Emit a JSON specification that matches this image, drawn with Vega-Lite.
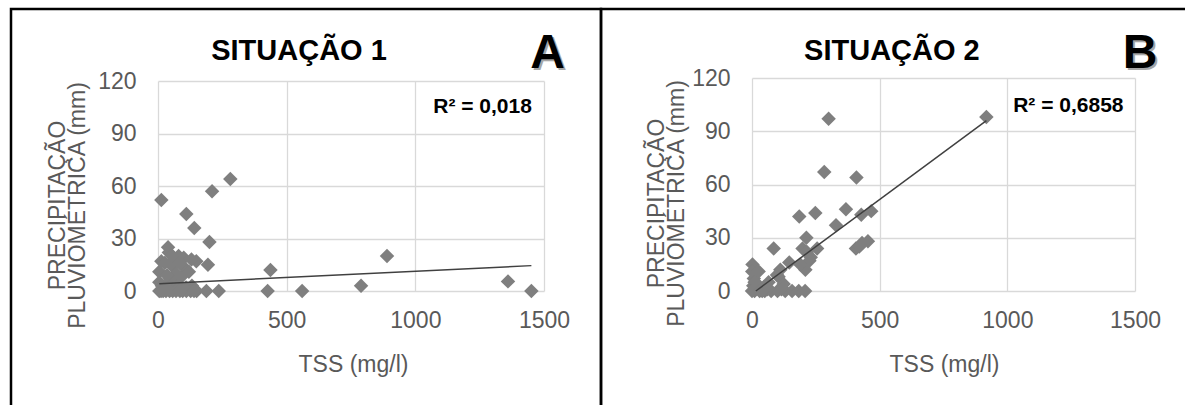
{
  "$schema": "https://vega.github.io/schema/vega-lite/v6.json",
  "padding": {"left": 9, "top": 7, "right": 0, "bottom": 0},
  "spacing": 0,
  "bounds": "flush",
  "background": "white",
  "config": {
    "font": "Liberation Sans",
    "view": {"stroke": "#000000", "strokeWidth": 2.5},
    "axis": {
      "labelFont": "Liberation Sans",
      "labelFontSize": 23,
      "labelColor": "#595959",
      "titleFont": "Liberation Sans",
      "titleFontSize": 23,
      "titleColor": "#595959",
      "titleFontWeight": "normal",
      "gridColor": "#d9d9d9",
      "gridWidth": 1.3,
      "domain": false,
      "ticks": false,
      "tickSize": 0,
      "format": "d"
    }
  },
  "datasets": {
    "s1": [
      {"tss": 13, "prec": 52}, {"tss": 281, "prec": 64}, {"tss": 210, "prec": 57}, {"tss": 110, "prec": 44},
      {"tss": 141, "prec": 36}, {"tss": 200, "prec": 28}, {"tss": 39, "prec": 25}, {"tss": 194, "prec": 15},
      {"tss": 149, "prec": 17}, {"tss": 437, "prec": 12}, {"tss": 890, "prec": 20}, {"tss": 789, "prec": 3},
      {"tss": 1360, "prec": 5.5}, {"tss": 13, "prec": 17}, {"tss": 5, "prec": 11}, {"tss": 5, "prec": 5},
      {"tss": 42, "prec": 22}, {"tss": 62, "prec": 18}, {"tss": 100, "prec": 19}, {"tss": 105, "prec": 13},
      {"tss": 57, "prec": 14}, {"tss": 47, "prec": 7}, {"tss": 132, "prec": 3}, {"tss": 109, "prec": 2},
      {"tss": 44, "prec": 2}, {"tss": 76, "prec": 4}, {"tss": 31, "prec": 3}, {"tss": 26, "prec": 16},
      {"tss": 80, "prec": 20}, {"tss": 70, "prec": 10}, {"tss": 90, "prec": 8}, {"tss": 120, "prec": 11},
      {"tss": 55, "prec": 20}, {"tss": 35, "prec": 9}, {"tss": 15, "prec": 3}, {"tss": 85, "prec": 16},
      {"tss": 130, "prec": 18}, {"tss": 25, "prec": 1}, {"tss": 426, "prec": 0}, {"tss": 560, "prec": 0},
      {"tss": 236, "prec": 0}, {"tss": 188, "prec": 0}, {"tss": 127, "prec": 0}, {"tss": 96, "prec": 0},
      {"tss": 57, "prec": 0}, {"tss": 31, "prec": 0}, {"tss": 12, "prec": 0}, {"tss": 1451, "prec": 0},
      {"tss": 5, "prec": 0}, {"tss": 70, "prec": 0}, {"tss": 110, "prec": 0}, {"tss": 150, "prec": 0},
      {"tss": 20, "prec": 0}, {"tss": 45, "prec": 0}, {"tss": 85, "prec": 0}, {"tss": 140, "prec": 0}
    ],
    "s2": [
      {"tss": 300, "prec": 97}, {"tss": 283, "prec": 67}, {"tss": 409, "prec": 64}, {"tss": 368, "prec": 46},
      {"tss": 248, "prec": 44}, {"tss": 185, "prec": 42}, {"tss": 329, "prec": 37}, {"tss": 428, "prec": 43},
      {"tss": 467, "prec": 45}, {"tss": 454, "prec": 28}, {"tss": 431, "prec": 27}, {"tss": 407, "prec": 24},
      {"tss": 420, "prec": 25}, {"tss": 213, "prec": 30}, {"tss": 255, "prec": 24}, {"tss": 198, "prec": 24},
      {"tss": 225, "prec": 17}, {"tss": 209, "prec": 12}, {"tss": 189, "prec": 15}, {"tss": 85, "prec": 24},
      {"tss": 146, "prec": 16}, {"tss": 111, "prec": 12}, {"tss": 98, "prec": 9}, {"tss": 2, "prec": 15},
      {"tss": 1, "prec": 11}, {"tss": 7, "prec": 7}, {"tss": 5, "prec": 3}, {"tss": 20, "prec": 4},
      {"tss": 46, "prec": 2}, {"tss": 65, "prec": 5}, {"tss": 104, "prec": 8}, {"tss": 124, "prec": 4},
      {"tss": 26, "prec": 11}, {"tss": 918, "prec": 98}, {"tss": 215, "prec": 22}, {"tss": 230, "prec": 19},
      {"tss": 10, "prec": 5}, {"tss": 0, "prec": 0}, {"tss": 10, "prec": 0}, {"tss": 30, "prec": 0},
      {"tss": 50, "prec": 0}, {"tss": 75, "prec": 0}, {"tss": 100, "prec": 0}, {"tss": 130, "prec": 0},
      {"tss": 157, "prec": 0}, {"tss": 183, "prec": 0}, {"tss": 208, "prec": 0}, {"tss": 60, "prec": 1},
      {"tss": 115, "prec": 1}, {"tss": 40, "prec": 0}
    ],
    "t1": [{"tss": 5, "prec": 4.2}, {"tss": 1451, "prec": 14.5}],
    "t2": [{"tss": 15, "prec": 0}, {"tss": 918, "prec": 96}]
  },
  "hconcat": [
    {
      "width": 590,
      "height": 396,
      "view": {"strokeDash": [986, 590, 400, 10]},
      "resolve": {"axis": {"x": "independent", "y": "independent"}},
      "layer": [
        {
          "data": {"name": "s1"},
          "mark": {"type": "point", "shape": "diamond", "filled": true, "size": 210, "color": "#7f7f7f", "opacity": 1},
          "encoding": {
            "x": {
              "field": "tss", "type": "quantitative",
              "scale": {"domain": [0, 1500], "range": [147, 533], "nice": false, "zero": false},
              "axis": {"orient": "top", "offset": -282, "grid": true, "values": [0, 500, 1000, 1500],
                "labelPadding": -18, "labelBaseline": "top", "labelFlush": false,
                "title": "TSS (mg/l)", "titleX": 342, "titleY": 62, "titleBaseline": "top", "titleAlign": "center"}
            },
            "y": {
              "field": "prec", "type": "quantitative",
              "scale": {"domain": [0, 120], "range": [282, 72], "nice": false},
              "axis": {"orient": "left", "offset": -147, "grid": true, "values": [0, 30, 60, 90, 120],
                "labelPadding": 22, "labelFlush": false,
                "title": ["PRECIPITAÇÃO", "PLUVIOMÉTRICA (mm)"], "titleX": -89, "titleY": 196,
                "titleLineHeight": 20, "titleBaseline": "bottom", "titleAlign": "center", "titleAngle": 270}
            }
          }
        },
        {
          "data": {"name": "t1"},
          "mark": {"type": "line", "color": "#404040", "strokeWidth": 1.5},
          "encoding": {
            "x": {"field": "tss", "type": "quantitative", "axis": null},
            "y": {"field": "prec", "type": "quantitative", "axis": null}
          }
        },
        {
          "data": {"values": [{"t": "R² = 0,018"}]},
          "mark": {"type": "text", "align": "right", "baseline": "alphabetic", "fontSize": 21, "fontWeight": "bold", "color": "#000000"},
          "encoding": {
            "x": {"datum": 1453, "type": "quantitative", "axis": null},
            "y": {"datum": 102, "type": "quantitative", "axis": null},
            "text": {"field": "t"}
          }
        },
        {
          "data": {"values": [{"t": "SITUAÇÃO 1"}]},
          "mark": {"type": "text", "align": "center", "baseline": "alphabetic", "fontSize": 29, "fontWeight": "bold", "color": "#000000"},
          "encoding": {
            "x": {"datum": 548, "type": "quantitative", "axis": null},
            "y": {"datum": 132, "type": "quantitative", "axis": null},
            "text": {"field": "t"}
          }
        },
        {
          "data": {"values": [{"t": "A"}]},
          "mark": {"type": "text", "align": "center", "baseline": "alphabetic", "fontSize": 48, "fontWeight": "bold", "color": "#a6a6a6", "dx": 2, "dy": 2},
          "encoding": {
            "x": {"datum": 1514, "type": "quantitative", "axis": null},
            "y": {"datum": 127.4, "type": "quantitative", "axis": null},
            "text": {"field": "t"}
          }
        },
        {
          "data": {"values": [{"t": "A"}]},
          "mark": {"type": "text", "align": "center", "baseline": "alphabetic", "fontSize": 48, "fontWeight": "bold", "color": "#000000"},
          "encoding": {
            "x": {"datum": 1514, "type": "quantitative", "axis": null},
            "y": {"datum": 127.4, "type": "quantitative", "axis": null},
            "text": {"field": "t"}
          }
        }
      ]
    },
    {
      "width": 584,
      "height": 396,
      "view": {"strokeDash": [584, 980, 400, 10]},
      "resolve": {"axis": {"x": "independent", "y": "independent"}},
      "layer": [
        {
          "data": {"name": "s2"},
          "mark": {"type": "point", "shape": "diamond", "filled": true, "size": 210, "color": "#7f7f7f", "opacity": 1},
          "encoding": {
            "x": {
              "field": "tss", "type": "quantitative",
              "scale": {"domain": [0, 1500], "range": [151, 534], "nice": false, "zero": false},
              "axis": {"orient": "top", "offset": -282, "grid": true, "values": [0, 500, 1000, 1500],
                "labelPadding": -18, "labelBaseline": "top", "labelFlush": false,
                "title": "TSS (mg/l)", "titleX": 343, "titleY": 62, "titleBaseline": "top", "titleAlign": "center"}
            },
            "y": {
              "field": "prec", "type": "quantitative",
              "scale": {"domain": [0, 120], "range": [282, 69], "nice": false},
              "axis": {"orient": "left", "offset": -151, "grid": true, "values": [0, 30, 60, 90, 120],
                "labelPadding": 22, "labelFlush": false,
                "title": ["PRECIPITAÇÃO", "PLUVIOMÉTRICA (mm)"], "titleX": -84, "titleY": 194,
                "titleLineHeight": 20, "titleBaseline": "bottom", "titleAlign": "center", "titleAngle": 270}
            }
          }
        },
        {
          "data": {"name": "t2"},
          "mark": {"type": "line", "color": "#404040", "strokeWidth": 1.5},
          "encoding": {
            "x": {"field": "tss", "type": "quantitative", "axis": null},
            "y": {"field": "prec", "type": "quantitative", "axis": null}
          }
        },
        {
          "data": {"values": [{"t": "R² = 0,6858"}]},
          "mark": {"type": "text", "align": "right", "baseline": "alphabetic", "fontSize": 21, "fontWeight": "bold", "color": "#000000"},
          "encoding": {
            "x": {"datum": 1455, "type": "quantitative", "axis": null},
            "y": {"datum": 101, "type": "quantitative", "axis": null},
            "text": {"field": "t"}
          }
        },
        {
          "data": {"values": [{"t": "SITUAÇÃO 2"}]},
          "mark": {"type": "text", "align": "center", "baseline": "alphabetic", "fontSize": 29, "fontWeight": "bold", "color": "#000000"},
          "encoding": {
            "x": {"datum": 548, "type": "quantitative", "axis": null},
            "y": {"datum": 130, "type": "quantitative", "axis": null},
            "text": {"field": "t"}
          }
        },
        {
          "data": {"values": [{"t": "B"}]},
          "mark": {"type": "text", "align": "center", "baseline": "alphabetic", "fontSize": 48, "fontWeight": "bold", "color": "#a6a6a6", "dx": 2, "dy": 2},
          "encoding": {
            "x": {"datum": 1520, "type": "quantitative", "axis": null},
            "y": {"datum": 125.4, "type": "quantitative", "axis": null},
            "text": {"field": "t"}
          }
        },
        {
          "data": {"values": [{"t": "B"}]},
          "mark": {"type": "text", "align": "center", "baseline": "alphabetic", "fontSize": 48, "fontWeight": "bold", "color": "#000000"},
          "encoding": {
            "x": {"datum": 1520, "type": "quantitative", "axis": null},
            "y": {"datum": 125.4, "type": "quantitative", "axis": null},
            "text": {"field": "t"}
          }
        }
      ]
    }
  ]
}
